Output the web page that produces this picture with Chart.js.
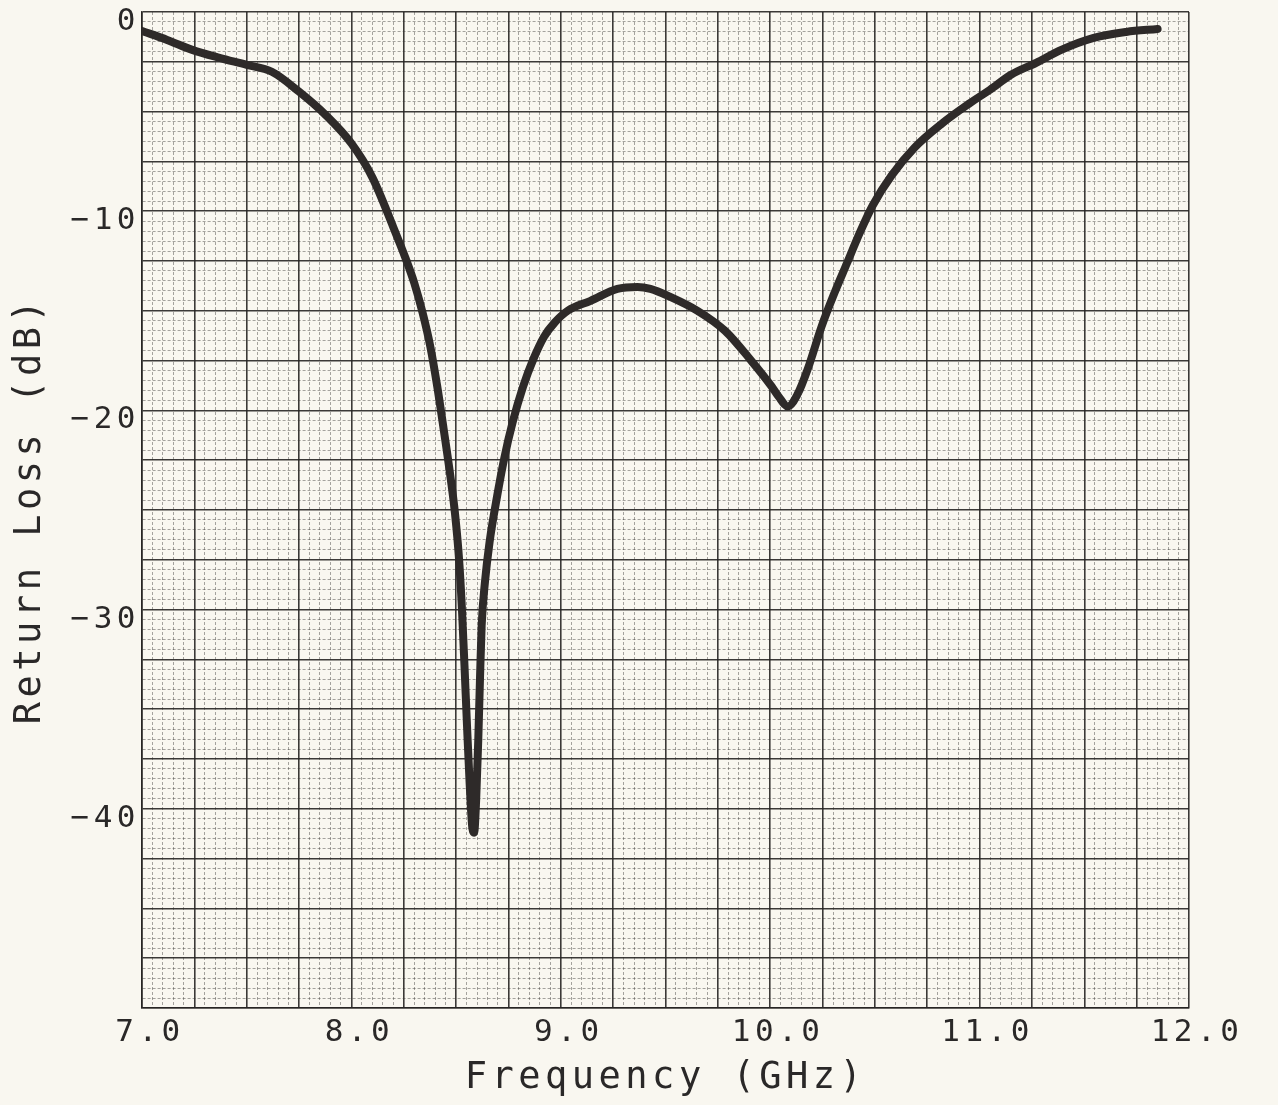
<!DOCTYPE html>
<html>
<head>
<meta charset="utf-8">
<script src="https://cdn.jsdelivr.net/npm/chart.js@4.4.1/dist/chart.umd.min.js"></script>
<style>
  html, body { margin: 0; padding: 0; background: #f9f7f0; }
  #wrap { width: 1278px; height: 1105px; }
</style>
</head>
<body>
<div id="wrap"><canvas id="plot" width="1278" height="1105"></canvas></div>
<script>
// Frequency (GHz)
const freq = [
    7.00, 7.12, 7.24, 7.37, 7.50, 7.62, 7.75, 7.88, 8.00, 8.10,
    8.20, 8.26, 8.30, 8.34, 8.377, 8.41, 8.44, 8.47, 8.495, 8.515,
    8.528, 8.54, 8.552, 8.565, 8.578, 8.586, 8.596, 8.606, 8.614, 8.622,
    8.638, 8.66, 8.696, 8.73, 8.77, 8.82, 8.87, 8.92, 8.97, 9.033,
    9.142, 9.27, 9.366, 9.428, 9.523, 9.653, 9.784, 9.909, 10.007, 10.04,
    10.084, 10.13, 10.18, 10.245, 10.307, 10.367, 10.427, 10.49, 10.58, 10.69,
    10.82, 10.95, 11.05, 11.15, 11.27, 11.39, 11.545, 11.70, 11.85
];

// Return loss (dB)
const returnLoss = [
    -0.95, -1.4, -1.9, -2.3, -2.65, -3.0, -4.0, -5.2, -6.6, -8.3,
    -10.8, -12.4, -13.6, -15.1, -16.8, -18.8, -20.9, -23.1, -25.2, -27.6,
    -30.0, -32.8, -35.8, -38.8, -41.0, -41.2, -39.5, -36.5, -33.5, -30.8,
    -28.6, -26.6, -24.3, -22.4, -20.6, -18.8, -17.4, -16.3, -15.6, -15.0,
    -14.5, -13.9, -13.8, -13.9, -14.3, -15.0, -16.0, -17.5, -18.8, -19.3,
    -19.8, -19.2, -17.9, -15.8, -14.1, -12.6, -11.1, -9.7, -8.2, -6.8,
    -5.6, -4.6, -3.9, -3.15, -2.55, -1.9, -1.3, -1.0, -0.85
];

// Etiquetas de los ejes
const xTickLabels = [7, 8, 9, 10, 11, 12];
const yTickLabels = [0, -10, -20, -30, -40];

const isMultiple = (v, step) => Math.abs(v / step - Math.round(v / step)) < 1e-6;

// Fondo de papel y espaciado de letras tipo plotter
const paperPlugin = {
    id: 'paper',
    beforeDraw(chart) {
        const ctx = chart.ctx;
        ctx.letterSpacing = '4.5px';
        ctx.save();
        ctx.fillStyle = '#f9f7f0';
        ctx.fillRect(0, 0, chart.width, chart.height);
        ctx.restore();
    }
};

const gridColor = (v, majorStep) => isMultiple(v, majorStep) ? 'rgba(38,36,34,0.9)' : 'rgba(60,58,55,0.45)';
const gridWidth = (v, majorStep) => isMultiple(v, majorStep) ? 1.6 : 1;
const gridDash = (ctx, majorStep) => {
    if (!ctx.tick) return [];
    return isMultiple(ctx.tick.value, majorStep) ? [] : [3, 2];
};

const textColor = '#2a2828';
const monoFont = "'DejaVu Sans Mono', 'Liberation Mono', monospace";

new Chart(document.getElementById('plot').getContext('2d'), {
    type: 'line',
    data: {
        datasets: [{
            data: freq.map((f, i) => ({ x: f, y: returnLoss[i] })),
            borderColor: '#2e2a29',
            borderWidth: 8,
            borderCapStyle: 'round',
            borderJoinStyle: 'round',
            pointRadius: 0,
            cubicInterpolationMode: 'monotone',
            fill: false
        }]
    },
    options: {
        responsive: false,
        animation: false,
        layout: { padding: { left: 0, right: 89, top: 12, bottom: 0 } },
        plugins: {
            legend: { display: false },
            tooltip: { enabled: false }
        },
        scales: {
            x: {
                type: 'linear',
                min: 7,
                max: 12,
                afterFit: (scale) => {
                    scale.height = 97;
                    scale.paddingLeft = 0;
                    scale.paddingRight = 0;
                },
                ticks: {
                    stepSize: 0.05,
                    autoSkip: false,
                    maxRotation: 0,
                    minRotation: 0,
                    padding: 6,
                    labelOffset: 8,
                    color: textColor,
                    font: { family: monoFont, size: 31 },
                    callback: (v) => xTickLabels.some(t => Math.abs(t - v) < 1e-6) ? v.toFixed(1) : ''
                },
                grid: {
                    drawTicks: false,
                    color: (ctx) => gridColor(ctx.tick.value, 0.25),
                    lineWidth: (ctx) => gridWidth(ctx.tick.value, 0.25)
                },
                border: {
                    color: 'rgba(38,36,34,0.9)',
                    width: 1.6,
                    dash: (ctx) => gridDash(ctx, 0.25)
                },
                title: {
                    display: true,
                    text: 'Frequency (GHz)',
                    color: textColor,
                    font: { family: monoFont, size: 37 },
                    padding: { top: 0, bottom: 4 }
                }
            },
            y: {
                min: -50,
                max: 0,
                afterFit: (scale) => {
                    scale.width = 142;
                    scale.paddingTop = 0;
                    scale.paddingBottom = 0;
                },
                ticks: {
                    stepSize: 0.5,
                    autoSkip: false,
                    padding: 2,
                    labelOffset: 10,
                    color: textColor,
                    font: { family: monoFont, size: 31 },
                    callback: (v) => {
                        if (!yTickLabels.some(t => Math.abs(t - v) < 1e-6)) return '';
                        return v === 0 ? '0' : '\u2212' + Math.abs(Math.round(v));
                    }
                },
                grid: {
                    drawTicks: false,
                    color: (ctx) => gridColor(ctx.tick.value, 2.5),
                    lineWidth: (ctx) => gridWidth(ctx.tick.value, 2.5)
                },
                border: {
                    color: 'rgba(38,36,34,0.9)',
                    width: 1.6,
                    dash: (ctx) => gridDash(ctx, 2.5)
                },
                title: {
                    display: true,
                    text: 'Return Loss (dB)',
                    color: textColor,
                    font: { family: monoFont, size: 37 },
                    padding: { top: 8, bottom: 0 }
                }
            }
        }
    },
    plugins: [paperPlugin]
});
</script>
</body>
</html>
